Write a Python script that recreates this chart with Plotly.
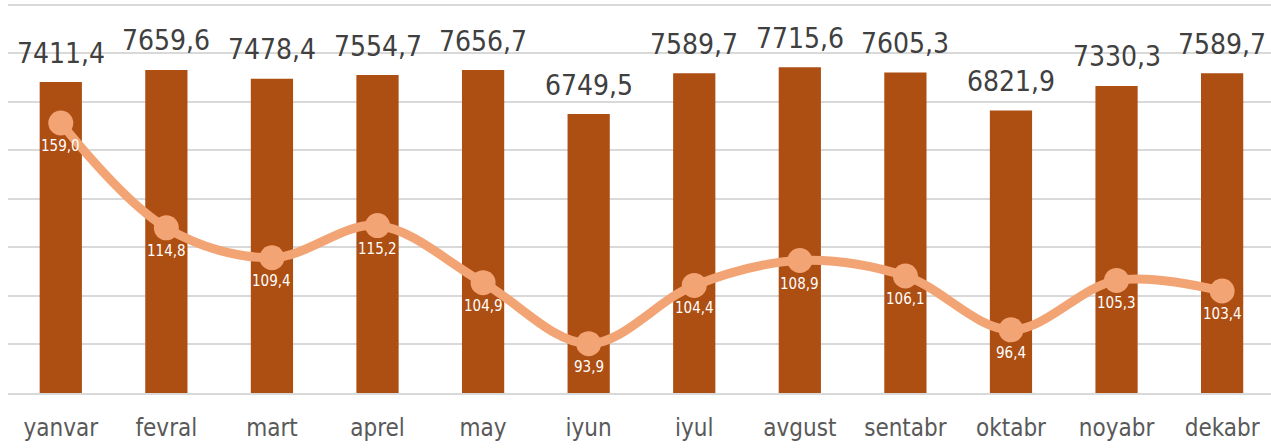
import plotly.graph_objects as go

months = ["yanvar", "fevral", "mart", "aprel", "may", "iyun",
          "iyul", "avgust", "sentabr", "oktabr", "noyabr", "dekabr"]
bar_values = [7411.4, 7659.6, 7478.4, 7554.7, 7656.7, 6749.5,
              7589.7, 7715.6, 7605.3, 6821.9, 7330.3, 7589.7]
# line positions as drawn in the picture (January point is drawn lower than its label)
line_values = [133.7, 114.8, 109.4, 115.2, 104.9, 93.9,
               104.4, 108.9, 106.1, 96.4, 105.3, 103.4]
line_labels = ["159,0", "114,8", "109,4", "115,2", "104,9", "93,9",
               "104,4", "108,9", "106,1", "96,4", "105,3", "103,4"]

BAR_COLOR = "#AD4E12"
LINE_COLOR = "#F3A475"
FONT = "DejaVu Sans Condensed"

fig = go.Figure()
fig.add_trace(go.Bar(x=months, y=bar_values, marker=dict(color=BAR_COLOR, line=dict(width=0)),
                     width=0.4, hoverinfo="skip"))
fig.add_trace(go.Scatter(x=months, y=line_values, yaxis="y2", mode="lines+markers",
                         line=dict(color=LINE_COLOR, width=9, shape="spline", smoothing=1),
                         marker=dict(size=25, color=LINE_COLOR), hoverinfo="skip"))

annotations = []
for m, v in zip(months, bar_values):
    annotations.append(dict(x=m, y=v, xref="x", yref="y",
                            text=f"{v:.1f}".replace(".", ","), showarrow=False,
                            yanchor="middle", yshift=29,
                            font=dict(family=FONT, size=28, color="#404040")))
for m, v, t in zip(months, line_values, line_labels):
    annotations.append(dict(x=m, y=v, xref="x", yref="y2", text=t, showarrow=False,
                            yanchor="middle", yshift=-23,
                            font=dict(family=FONT, size=15, color="#FFFFFF")))

fig.update_layout(
    width=1271, height=448,
    margin=dict(l=8, r=0, t=3, b=55),
    paper_bgcolor="white", plot_bgcolor="white",
    showlegend=False,
    bargap=0.6,
    font=dict(family=FONT),
    xaxis=dict(range=[-0.5, 11.463], showgrid=False, showline=True, linecolor="#D9D9D9",
               linewidth=2, ticks="outside", ticklen=12, tickcolor="rgba(0,0,0,0)",
               tickfont=dict(family=FONT, size=24, color="#595959")),
    yaxis=dict(range=[1000, 9040], dtick=1000, tick0=1000, showgrid=True,
               gridcolor="#D9D9D9", gridwidth=2, showticklabels=False, zeroline=False),
    yaxis2=dict(range=[85, 155.35], overlaying="y", side="right", showgrid=False,
                showticklabels=False, zeroline=False),
    annotations=annotations,
)

fig.write_html("out.html", config={"displayModeBar": False},
               post_script="document.body.style.margin='0px';document.body.style.overflow='hidden';")
